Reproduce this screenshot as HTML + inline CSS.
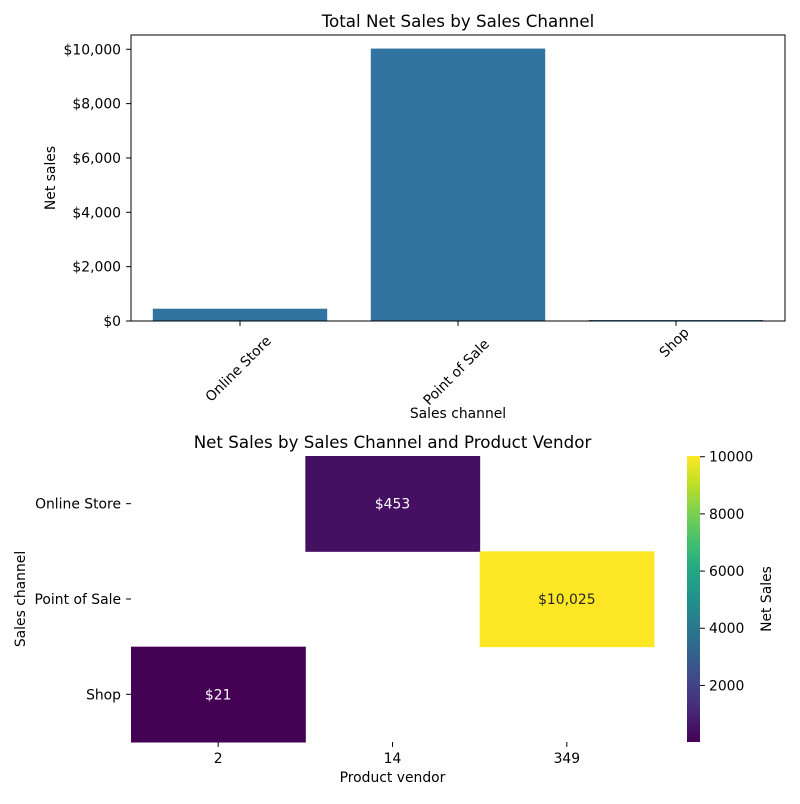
<!DOCTYPE html>
<html><head><meta charset="utf-8"><style>
body{margin:0;background:#fff;font-family:"DejaVu Sans","Liberation Sans",sans-serif;}
svg text{font-family:"DejaVu Sans","Liberation Sans",sans-serif;fill:#000;}
</style></head><body>
<svg id="chart" width="800" height="800" viewBox="0 0 800 800">
<defs>
<linearGradient id="viridis" x1="0" y1="1" x2="0" y2="0">
<stop offset="0" stop-color="#440154"/><stop offset="0.1" stop-color="#482475"/>
<stop offset="0.2" stop-color="#414487"/><stop offset="0.3" stop-color="#355f8d"/>
<stop offset="0.4" stop-color="#2a788e"/><stop offset="0.5" stop-color="#21918c"/>
<stop offset="0.6" stop-color="#22a884"/><stop offset="0.7" stop-color="#44bf70"/>
<stop offset="0.8" stop-color="#7ad151"/><stop offset="0.9" stop-color="#bddf26"/>
<stop offset="1" stop-color="#fde725"/>
</linearGradient>
</defs>
<g id="bar-chart"></g>
<g id="heatmap"></g>
</svg>
<script>
const channels = ["Online Store", "Point of Sale", "Shop"];
const netSales = [453, 10025, 21];
const yTicks = [0, 2000, 4000, 6000, 8000, 10000];
const vendors = ["2", "14", "349"];
const heatRows = ["Online Store", "Point of Sale", "Shop"];
const heatCells = [[0, 1, 453], [1, 2, 10025], [2, 0, 21]];
const cbTicks = [2000, 4000, 6000, 8000, 10000];

const NS = "http://www.w3.org/2000/svg";
const FS = 13.9, TFS = 16.7;
function mk(parent, tag, attrs, text) {
  const e = document.createElementNS(NS, tag);
  for (const k in attrs) e.setAttribute(k, attrs[k]);
  if (text !== undefined) e.textContent = text;
  parent.appendChild(e);
  return e;
}
function fmt(v) { return "$" + v.toLocaleString("en-US"); }

// Bar chart
const bc = document.getElementById("bar-chart");
const L = 131, R = 785, T = 35, B = 321;
const yMax = 10525;
const ys = v => B - v / yMax * (B - T);
const band = (R - L) / channels.length;
const xs = i => L + band * (i + 0.5);
channels.forEach((c, i) => {
  const w = band * 0.8;
  const h = Math.max(B - ys(netSales[i]), 1);
  const r = mk(bc, "rect", {x: xs(i) - w / 2, y: B - h, width: w, height: h, fill: "#3274a1"});
  
  
  mk(bc, "line", {x1: xs(i), x2: xs(i), y1: B, y2: B + 4.9, stroke: "#000"});
  const cx = xs(i) - 2, cyy = B + 8 + c.length * 3.3;
  const t = mk(bc, "text", {x: cx, y: cyy + 5, "font-size": FS, "text-anchor": "middle", transform: `rotate(-45 ${cx} ${cyy})`}, c);
  
  
});
yTicks.forEach(v => {
  mk(bc, "line", {x1: L - 4.9, x2: L, y1: ys(v), y2: ys(v), stroke: "#000"});
  const t = mk(bc, "text", {x: L - 10, y: ys(v) + 5, "font-size": FS, "text-anchor": "end"}, fmt(v));
  
  
});
const fr = mk(bc, "rect", {x: L, y: T, width: R - L, height: B - T, fill: "none", stroke: "#000", "stroke-width": 1});


let t1 = mk(bc, "text", {x: (L + R) / 2, y: 27, "font-size": TFS, "text-anchor": "middle"}, "Total Net Sales by Sales Channel");


let t2 = mk(bc, "text", {x: (L + R) / 2, y: 418, "font-size": FS, "text-anchor": "middle"}, "Sales channel");


let t3 = mk(bc, "text", {x: 55, y: 178, "font-size": FS, "text-anchor": "middle", transform: "rotate(-90 55 178)"}, "Net sales");



// Heatmap
const hm = document.getElementById("heatmap");
const HL = 131, HR = 654, HT = 456, HB = 742;
const cw = (HR - HL) / vendors.length, ch = (HB - HT) / heatRows.length;
const vmin = 21, vmax = 10025;
const vir = ["#440154","#482475","#414487","#355f8d","#2a788e","#21918c","#22a884","#44bf70","#7ad151","#bddf26","#fde725"];
function hex(h){return [1,3,5].map(i=>parseInt(h.substr(i,2),16));}
function cmap(v){
  let f = Math.max(0, Math.min(1, (v - vmin) / (vmax - vmin))) * 10;
  const i = Math.min(9, Math.floor(f)), r = f - i;
  const a = hex(vir[i]), b = hex(vir[i + 1]);
  return "rgb(" + a.map((x, k) => Math.round(x + (b[k] - x) * r)).join(",") + ")";
}
heatCells.forEach(([r, c, v]) => {
  const x = HL + c * cw, y = HT + r * ch;
  const e = mk(hm, "rect", {x: x, y: y, width: cw + 0.5, height: ch + 0.5, fill: cmap(v)});
  
  
  const t = mk(hm, "text", {x: x + cw / 2, y: y + ch / 2 + 5, "font-size": FS, "text-anchor": "middle", style: "fill:" + (v > 5000 ? "#262626" : "#fff")}, fmt(v));
  
  
});
heatRows.forEach((rname, r) => {
  const y = HT + (r + 0.5) * ch;
  mk(hm, "line", {x1: HL - 4.9, x2: HL, y1: y, y2: y, stroke: "#000"});
  const t = mk(hm, "text", {x: HL - 10, y: y + 5, "font-size": FS, "text-anchor": "end"}, rname);
  
  
});
vendors.forEach((vn, c) => {
  const x = HL + (c + 0.5) * cw;
  mk(hm, "line", {x1: x, x2: x, y1: HB, y2: HB + 4.9, stroke: "#000"});
  const t = mk(hm, "text", {x: x, y: HB + 21, "font-size": FS, "text-anchor": "middle"}, vn);
  
  
});
let h1 = mk(hm, "text", {x: (HL + HR) / 2, y: 448, "font-size": TFS, "text-anchor": "middle"}, "Net Sales by Sales Channel and Product Vendor");


let h2 = mk(hm, "text", {x: (HL + HR) / 2, y: 782, "font-size": FS, "text-anchor": "middle"}, "Product vendor");


let h3 = mk(hm, "text", {x: 25, y: 599, "font-size": FS, "text-anchor": "middle", transform: "rotate(-90 25 599)"}, "Sales channel");



// Colorbar
const CL = 687, CW = 13;
const cb = mk(hm, "rect", {x: CL, y: HT, width: CW, height: HB - HT, fill: "url(#viridis)"});


const cy = v => HB - (v - vmin) / (vmax - vmin) * (HB - HT);
cbTicks.forEach(v => {
  mk(hm, "line", {x1: CL + CW, x2: CL + CW + 4.9, y1: cy(v), y2: cy(v), stroke: "#000"});
  const t = mk(hm, "text", {x: CL + CW + 9, y: cy(v) + 5, "font-size": FS}, String(v));
  
  
});
let h4 = mk(hm, "text", {x: 771, y: 599, "font-size": FS, "text-anchor": "middle", transform: "rotate(-90 771 599)"}, "Net Sales");


</script>
</body></html>
